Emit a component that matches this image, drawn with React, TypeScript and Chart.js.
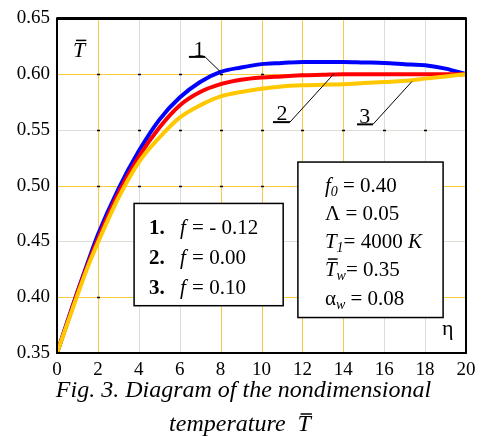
import React, { useEffect, useRef } from "react";
import { Chart, registerables } from "chart.js";

Chart.register(...registerables);

// η values (x axis)
const etaValues = [0, 0.5, 1, 1.5, 2, 3, 4, 5, 6, 7, 8, 9, 10, 11, 12, 13, 14, 15, 16, 17, 18, 19, 20];
// Curve 1: f = -0.12 (blue)
const seriesF1 = [0.35, 0.378, 0.405, 0.431, 0.456, 0.497, 0.531, 0.559, 0.579, 0.593, 0.602, 0.606, 0.609, 0.610, 0.611, 0.611, 0.611, 0.6105, 0.610, 0.609, 0.608, 0.605, 0.600];
// Curve 2: f = 0.00 (red)
const seriesF2 = [0.35, 0.377, 0.404, 0.429, 0.452, 0.493, 0.526, 0.552, 0.572, 0.584, 0.591, 0.595, 0.597, 0.598, 0.599, 0.5995, 0.600, 0.600, 0.600, 0.600, 0.600, 0.600, 0.600];
// Curve 3: f = 0.10 (yellow)
const seriesF3 = [0.35, 0.376, 0.402, 0.427, 0.449, 0.489, 0.521, 0.543, 0.561, 0.572, 0.580, 0.584, 0.587, 0.589, 0.590, 0.5905, 0.591, 0.592, 0.593, 0.594, 0.596, 0.598, 0.600];

const xTicks = [0, 2, 4, 6, 8, 10, 12, 14, 16, 18, 20];
const yTicks = [0.35, 0.40, 0.45, 0.50, 0.55, 0.60, 0.65];
const legendNumbers = ["1.", "2.", "3."];
const legendValues = ["= - 0.12", "= 0.00", "= 0.10"];
const curveLabels = ["1", "2", "3"];

const SERIF = '"Liberation Serif", "Times New Roman", serif';
const YELLOW_GRID = "#f8cc3a";
const GRAY_GRID = "#deded6";
const yellowX = [2, 8, 10, 12, 14];

Chart.defaults.font.family = SERIF;

function drawRuns(ctx: CanvasRenderingContext2D, x: number, y: number, runs: { t: string; f: string; dy?: number; bar?: boolean }[]) {
  let cx = x;
  for (const r of runs) {
    ctx.font = r.f;
    ctx.fillText(r.t, cx, y + (r.dy || 0));
    const w = ctx.measureText(r.t).width;
    if (r.bar) {
      ctx.save();
      ctx.lineWidth = 1.5;
      ctx.beginPath();
      ctx.moveTo(cx + 3, y - 17);
      ctx.lineTo(cx + w + 1, y - 17);
      ctx.stroke();
      ctx.restore();
    }
    cx += w;
  }
  return cx;
}

const annotPlugin = {
  id: "annot",
  beforeDatasetsDraw(chart: any) {
    const { ctx, scales, chartArea: a } = chart;
    const xs = scales.x, ys = scales.y;
    ctx.save();
    ctx.lineWidth = 1;
    // grid
    xTicks.slice(1, -1).forEach((v) => {
      const px = Math.round(xs.getPixelForValue(v)) + 0.5;
      ctx.strokeStyle = yellowX.includes(v) ? YELLOW_GRID : GRAY_GRID;
      ctx.beginPath();
      ctx.moveTo(px, a.top);
      ctx.lineTo(px, a.bottom);
      ctx.stroke();
    });
    yTicks.slice(1, -1).forEach((v, i) => {
      const py = Math.round(ys.getPixelForValue(v)) + 0.5;
      ctx.strokeStyle = i % 2 === 0 ? YELLOW_GRID : GRAY_GRID;
      ctx.beginPath();
      ctx.moveTo(a.left, py);
      ctx.lineTo(a.right, py);
      ctx.stroke();
    });
    // tiny marks at the grid nodes
    ctx.fillStyle = "#000";
    xTicks.slice(1, -1).forEach((xv) => {
      yTicks.slice(1, -1).forEach((yv) => {
        const px = Math.round(xs.getPixelForValue(xv)) + 0.5;
        const py = Math.round(ys.getPixelForValue(yv)) + 0.5;
        ctx.fillRect(px - 1.5, py - 0.75, 3, 1.5);
      });
    });
    ctx.restore();
  },
  afterDatasetsDraw(chart: any) {
    const { ctx, chartArea: a, scales } = chart;
    const X = (v: number) => scales.x.getPixelForValue(v);
    const Y = (v: number) => scales.y.getPixelForValue(v);
    ctx.save();
    // frame
    ctx.strokeStyle = "#000";
    ctx.lineWidth = 2;
    ctx.strokeRect(a.left, a.top, a.right - a.left, a.bottom - a.top);
    ctx.lineWidth = 3;
    ctx.beginPath();
    ctx.moveTo(a.left, a.top);
    ctx.lineTo(a.right, a.top);
    ctx.stroke();

    // leader labels
    const leaders = [
      { text: [6.94, 0.6165], u: [6.45, 7.24, 0.6155], end: [7.97, 0.6025] },
      { text: [11.0, 0.5585], u: [10.56, 11.39, 0.5570], end: [13.55, 0.6005] },
      { text: [15.05, 0.5565], u: [14.67, 15.45, 0.5550], end: [17.36, 0.5935] },
    ];
    leaders.forEach((l, i) => {
      ctx.fillStyle = "#000";
      ctx.font = `22px ${SERIF}`;
      ctx.textAlign = "center";
      ctx.textBaseline = "alphabetic";
      ctx.fillText(curveLabels[i], X(l.text[0]), Y(l.text[1]));
      ctx.lineWidth = 2;
      ctx.beginPath();
      ctx.moveTo(X(l.u[0]), Y(l.u[2]));
      ctx.lineTo(X(l.u[1]), Y(l.u[2]));
      ctx.stroke();
      ctx.lineWidth = 1;
      ctx.beginPath();
      ctx.moveTo(X(l.u[1]), Y(l.u[2]));
      ctx.lineTo(X(l.end[0]), Y(l.end[1]));
      ctx.stroke();
    });

    ctx.textAlign = "left";
    ctx.textBaseline = "alphabetic";
    // legend box
    const lb = { l: X(3.77), t: Y(0.4841), r: X(11.06), b: Y(0.3924) };
    ctx.fillStyle = "#fff";
    ctx.fillRect(lb.l, lb.t, lb.r - lb.l, lb.b - lb.t);
    ctx.strokeStyle = "#000";
    ctx.lineWidth = 1.5;
    ctx.strokeRect(lb.l, lb.t, lb.r - lb.l, lb.b - lb.t);
    ctx.fillStyle = "#000";
    legendNumbers.forEach((n, i) => {
      const by = lb.t + 31 + i * 30;
      ctx.font = `bold 21px ${SERIF}`;
      ctx.fillText(n, lb.l + 15, by);
      ctx.font = `italic 21px ${SERIF}`;
      ctx.fillText("f", lb.l + 46, by);
      ctx.font = `21px ${SERIF}`;
      ctx.fillText(legendValues[i], lb.l + 58, by);
    });

    // parameter box
    const pb = { l: X(11.78), t: Y(0.5212), r: X(18.88), b: Y(0.3818) };
    ctx.fillStyle = "#fff";
    ctx.fillRect(pb.l, pb.t, pb.r - pb.l, pb.b - pb.t);
    ctx.strokeStyle = "#000";
    ctx.lineWidth = 1.5;
    ctx.strokeRect(pb.l, pb.t, pb.r - pb.l, pb.b - pb.t);
    ctx.fillStyle = "#000";
    ctx.strokeStyle = "#000";
    const tx = pb.l + 27;
    const R = `21px ${SERIF}`, I = `italic 21px ${SERIF}`, S = `italic 14px ${SERIF}`;
    drawRuns(ctx, tx, pb.t + 30, [{ t: "f", f: I }, { t: "0", f: S, dy: 4 }, { t: " = 0.40", f: R }]);
    drawRuns(ctx, tx, pb.t + 58, [{ t: "Λ = 0.05", f: R }]);
    drawRuns(ctx, tx, pb.t + 86, [{ t: "T", f: I }, { t: "1", f: S, dy: 4 }, { t: "= 4000 ", f: R }, { t: "K", f: I }]);
    drawRuns(ctx, tx, pb.t + 114, [{ t: "T", f: I, bar: true }, { t: "w", f: S, dy: 4 }, { t: "= 0.35", f: R }]);
    drawRuns(ctx, tx, pb.t + 143, [{ t: "α", f: R }, { t: "w", f: S, dy: 4 }, { t: " = 0.08", f: R }]);

    // axis symbols
    drawRuns(ctx, a.left + 16, a.top + 39, [{ t: "T", f: `italic 22px ${SERIF}`, bar: true }]);
    ctx.font = `22px ${SERIF}`;
    ctx.fillText("η", a.right - 24, a.bottom - 18);
    ctx.restore();
  },
  afterDraw(chart: any) {
    const { ctx } = chart;
    ctx.save();
    ctx.fillStyle = "#000";
    ctx.strokeStyle = "#000";
    ctx.textBaseline = "alphabetic";
    const CF = `italic 24px ${SERIF}`;
    ctx.font = CF;
    ctx.textAlign = "center";
    ctx.fillText("Fig. 3. Diagram of the nondimensional", 243.5, 397);
    ctx.textAlign = "left";
    const w1 = ctx.measureText("temperature  ").width;
    const w2 = ctx.measureText("T").width;
    const start = 240 - (w1 + w2) / 2;
    drawRuns(ctx, start, 431, [{ t: "temperature  ", f: CF }, { t: "T", f: CF, bar: true }]);
    ctx.restore();
  },
};

export default function App() {
  const ref = useRef<HTMLCanvasElement | null>(null);
  useEffect(() => {
    if (!ref.current) return;
    const mk = (vals: number[]) => etaValues.map((x, i) => ({ x, y: vals[i] }));
    const tickFont = { family: SERIF, size: 19 };
    const chart = new Chart(ref.current, {
      type: "line",
      data: {
        datasets: [
          { label: "f = 0.10", data: mk(seriesF3), borderColor: "#ffc800", borderWidth: 4, pointRadius: 0, cubicInterpolationMode: "monotone" },
          { label: "f = 0.00", data: mk(seriesF2), borderColor: "#ff0000", borderWidth: 4, pointRadius: 0, cubicInterpolationMode: "monotone" },
          { label: "f = -0.12", data: mk(seriesF1), borderColor: "#0000ff", borderWidth: 4, pointRadius: 0, cubicInterpolationMode: "monotone" },
        ] as any,
      },
      options: {
        animation: false,
        responsive: false,
        maintainAspectRatio: false,
        layout: { padding: { top: 13, right: 21, left: 0, bottom: 0 } },
        plugins: { legend: { display: false }, tooltip: { enabled: false } },
        scales: {
          x: {
            type: "linear",
            min: 0,
            max: 20,
            afterBuildTicks: (s: any) => { s.ticks = xTicks.map((v) => ({ value: v })); },
            ticks: { font: tickFont, color: "#000", padding: 6, maxRotation: 0, autoSkip: false },
            grid: { display: false, drawTicks: false },
            border: { display: false },
            afterFit: (s: any) => { s.height = 84; },
          },
          y: {
            min: 0.35,
            max: 0.65,
            afterBuildTicks: (s: any) => { s.ticks = yTicks.map((v) => ({ value: v })); },
            ticks: { font: tickFont, color: "#000", padding: 7, autoSkip: false, callback: (v: any) => Number(v).toFixed(2) },
            grid: { display: false, drawTicks: false },
            border: { display: false },
            afterFit: (s: any) => { s.width = 57; },
          },
        },
      } as any,
      plugins: [annotPlugin],
    });
    return () => chart.destroy();
  }, []);
  return (
    <div style={{ position: "absolute", left: 0, top: 0, width: 487, height: 437, background: "#fff" }}>
      <canvas ref={ref} width={487} height={437} style={{ display: "block", width: 487, height: 437 }} />
    </div>
  );
}
